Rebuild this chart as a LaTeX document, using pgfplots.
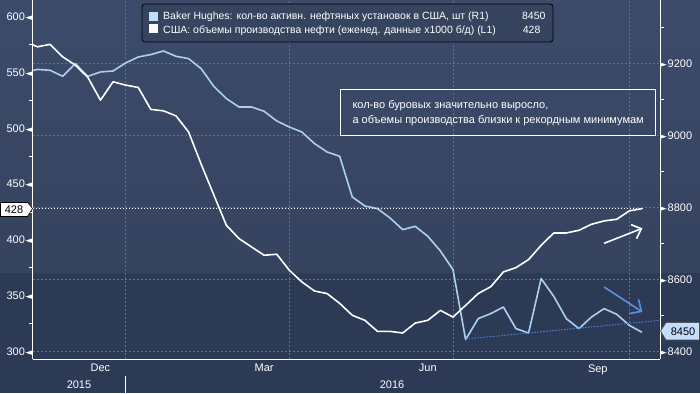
\documentclass[border=0pt]{standalone}
\usepackage{pgfplots}
\pgfplotsset{compat=1.18}
\usepackage{fontspec}
\setmainfont{Liberation Sans}
\newfontfamily\dejavu{DejaVu Sans}
\usetikzlibrary{arrows.meta}
\definecolor{bgtop}{HTML}{3D4B6B}
\definecolor{bgmid}{HTML}{35435F}
\definecolor{bglow}{HTML}{2D3A56}
\definecolor{gridc}{HTML}{5A7393}
\definecolor{lblue}{HTML}{ACD0F2}
\definecolor{swblue}{HTML}{C2DEFC}
\definecolor{trendc}{HTML}{4A7FD6}
\definecolor{arrowc}{HTML}{5B8FE4}
\definecolor{legbg}{HTML}{36445F}
\newcommand{\ltri}{{\dejavu\fontsize{9}{9}\selectfont ◄}}
\newcommand{\rtri}{{\dejavu\fontsize{9}{9}\selectfont ►}}
\begin{document}
\begin{tikzpicture}
\fill[bglow] (0pt,0pt) rectangle (700pt,393pt);
\shade[top color=bgtop, bottom color=bgmid] (0pt,120pt) rectangle (700pt,393pt);
\useasboundingbox (0pt,0pt) rectangle (700pt,393pt);

% ---------- right axis: production (light blue) ----------
\begin{axis}[
  at={(32.6pt,33.7pt)}, anchor=south west, scale only axis,
  width=627.4pt, height=359.3pt,
  xmin=-0.39, xmax=49.44, ymin=8377.8, ymax=9375.8,
  axis y line*=right, axis x line*=bottom,
  x axis line style={draw=none},
  y axis line style={white, line width=0.8pt, -},
  xtick={7,20,33,47}, xticklabels={},
  xmajorgrids, ymajorgrids,
  grid style={gridc, dash pattern=on 2pt off 2pt, line width=0.6pt},
  ytick={8400,8600,8800,9000,9200}, minor ytick={8500,8700,8900,9100,9300},
  tick align=outside, major tick length=0pt, minor tick length=3.5pt,
  minor tick style={white, line width=0.8pt},
  yticklabel={\rtri\hspace{0.6pt}\pgfmathprintnumber[1000 sep={}]{\tick}},
  yticklabel style={anchor=west, inner sep=0pt, text=white, font=\fontsize{11}{11}\selectfont},
  /pgf/number format/assume math mode=true,
  clip mode=individual,
]
\addplot[lblue, line width=1.6pt, line join=round] coordinates {
(-1,9175) (0,9183) (1,9180.6) (2,9163.9) (3,9199) (4,9163.9) (5,9175.9) (6,9178.6)
(7,9200.9) (8,9217.5) (9,9224.2) (10,9234.2) (11,9219.4) (12,9213) (13,9185) (14,9136)
(15,9102) (16,9078.7) (17,9078.7) (18,9066.7) (19,9039.8) (20,9023) (21,9009) (22,8976.9)
(23,8953.7) (24,8941.7) (25,8828.6) (26,8803.6) (27,8796.4) (28,8770.3) (29,8738) (30,8747.2)
(31,8719.4) (32,8678.6) (33,8626.9) (34,8432.5) (35,8490.8) (36,8504.7) (37,8523) (38,8463)
(39,8450.8) (40,8601.9) (41,8552.8) (42,8490.8) (43,8463) (44,8495.3) (45,8518.6) (46,8502.8)
(47,8472.2) (48,8453)};
\addplot[trendc, line width=1pt, dash pattern=on 1.5pt off 1.5pt] coordinates {(34,8434) (49.44,8486)};
\draw[arrowc, line width=1.6pt, -{Straight Barb[length=9pt,width=17pt]}] (axis cs:45,8578.6) -- (axis cs:48.04,8509.2);
\end{axis}

% ---------- left axis: rigs (white) ----------
\begin{axis}[
  at={(32.6pt,33.7pt)}, anchor=south west, scale only axis,
  width=627.4pt, height=359.3pt,
  xmin=-0.39, xmax=49.44, ymin=292.8, ymax=615.3,
  axis y line*=left, axis x line*=bottom,
  axis line style={white, line width=0.8pt, -},
  xtick=\empty, minor xtick={3,7,12,16,20,25,29,33,38,42,47},
  extra x ticks={5,18,31,44.5}, extra x tick labels={Dec,Mar,Jun,Sep},
  extra x tick style={major tick length=0pt},
  ytick={300,350,400,450,500,550,600}, minor ytick={325,375,425,475,525,575},
  tick align=outside, major tick length=0pt, minor tick length=3.5pt,
  minor tick style={white, line width=0.8pt},
  yticklabel={\pgfmathprintnumber{\tick}\hspace{0.6pt}\ltri},
  yticklabel style={anchor=east, inner sep=0pt, text=white, font=\fontsize{11}{11}\selectfont},
  xticklabel style={text=white, font=\fontsize{11}{11}\selectfont, yshift=-1.5pt},
  /pgf/number format/assume math mode=true,
  clip mode=individual,
]
\addplot[white, line width=0.8pt, dash pattern=on 1.5pt off 1.5pt] coordinates {(-0.39,428) (48,428)};
\addplot[white, line width=1.6pt, line join=round] coordinates {
(-1,577.9) (0,573.3) (1,575.5) (2,564.3) (3,556.9) (4,545.8) (5,525.4) (6,541.9)
(7,538.9) (8,536.8) (9,517.1) (10,515.8) (11,511.3) (12,496.8) (13,467.9) (14,440.4)
(15,413.1) (16,401.2) (17,393.6) (18,386.2) (19,387.1) (20,372.7) (21,362.2) (22,354.1)
(23,351.8) (24,343) (25,332.3) (26,327.8) (27,317.9) (28,317.9) (29,316.4) (30,325.3)
(31,327.8) (32,336.7) (33,330.7) (34,341.2) (35,351.8) (36,358) (37,371.2) (38,375.1)
(39,382.3) (40,395.1) (41,406.2) (42,406.2) (43,408.6) (44,414) (45,417) (46,418.5)
(47,426) (48,428)};
\draw[white, line width=1.6pt, -{Straight Barb[length=8pt,width=15pt]}] (axis cs:45,396.9) -- (axis cs:48.04,410.4);
\end{axis}

\begin{scope}[x=1pt,y=1pt]
% year labels and separator
\draw[white, line width=0.6pt] (125.6,0) -- (125.6,17);
\node[text=white, font=\fontsize{11}{11}\selectfont] at (79,8) {2015};
\node[text=white, font=\fontsize{11}{11}\selectfont] at (392,8) {2016};

% value flags
\draw[black, line width=0.6pt, fill=white] (0.5,190.5) -- (27.5,190.5) -- (32.6,184.6) -- (27.5,176.5) -- (0.5,176.5) -- cycle;
\node[text=black, font=\fontsize{11}{11}\selectfont] at (14,183.5) {428};
\draw[black!70, line width=0.6pt, fill=swblue] (660.5,62) -- (666,70.3) -- (699.5,70.3) -- (699.5,53) -- (666,53) -- cycle;
\node[text=black, font=\fontsize{11}{11}\selectfont] at (683,61.5) {8450};

% legend
\draw[black, line width=0.8pt, rounded corners=3pt, fill=legbg] (142,389) rectangle (553,351);
\fill[swblue] (149,381.3) rectangle (158,372.3);
\fill[white!96!gray] (149,369) rectangle (158,360);
\node[anchor=base west, inner sep=0pt, text=white, font=\fontsize{10.5}{10.5}\selectfont] at (163,373) {Baker Hughes: кол-во активн. нефтяных установок в США, шт (R1)};
\node[anchor=base west, inner sep=0pt, text=white, font=\fontsize{10.5}{10.5}\selectfont] at (163,359.5) {США: объемы производства нефти (еженед. данные x1000 б/д) (L1)};
\node[anchor=base east, inner sep=0pt, text=white, font=\fontsize{10.5}{10.5}\selectfont] at (545.7,373) {8450};
\node[anchor=base west, inner sep=0pt, text=white, font=\fontsize{10.5}{10.5}\selectfont] at (522.7,359.5) {428};

% annotation
\draw[white, line width=0.8pt] (340.7,303.7) rectangle (655,258);
\node[anchor=base west, inner sep=0pt, text=white, font=\fontsize{11}{11}\selectfont] at (352.3,284) {кол-во буровых значительно выросло,};
\node[anchor=base west, inner sep=0pt, text=white, font=\fontsize{11}{11}\selectfont] at (352.3,269) {а объемы производства близки к рекордным минимумам};
\end{scope}
\end{tikzpicture}
\end{document}
